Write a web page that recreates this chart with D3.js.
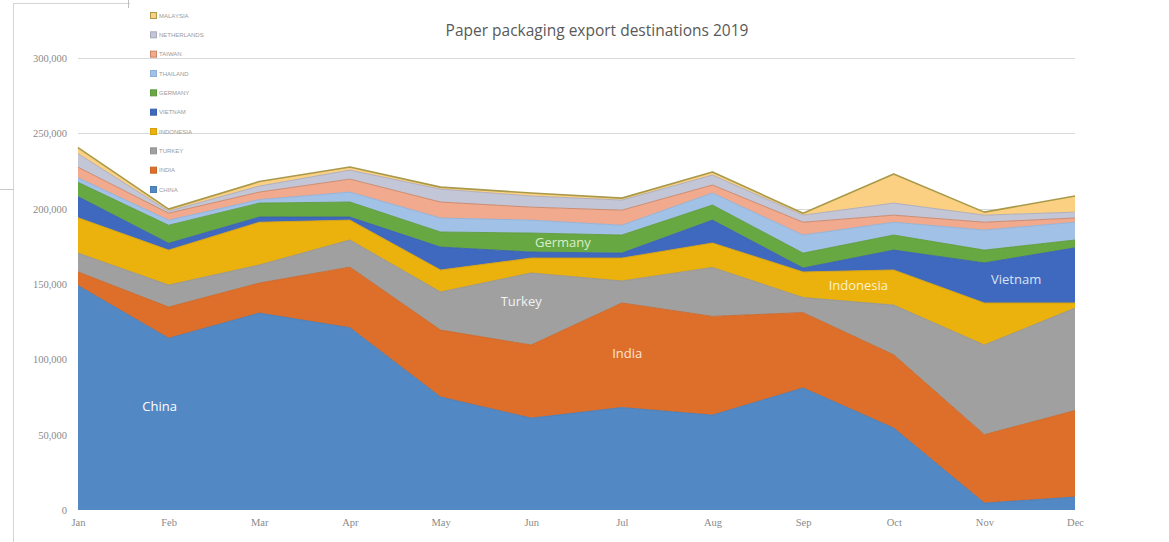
<!DOCTYPE html>
<html><head><meta charset="utf-8">
<script src="https://cdn.jsdelivr.net/npm/d3@7"></script>
<style>html,body{margin:0;padding:0;background:#fff;}svg{display:block;}</style>
</head><body>
<svg id="chart" width="1169" height="542"></svg>
<script>
const months = ["Jan","Feb","Mar","Apr","May","Jun","Jul","Aug","Sep","Oct","Nov","Dec"];
const seriesNames = ["CHINA","INDIA","TURKEY","INDONESIA","VIETNAM","GERMANY","THAILAND","TAIWAN","NETHERLANDS","MALAYSIA"];
const china       = [149000,114000,130700,121000,75000,61000,68000,63000,81000,54400,4600,8600];
const india       = [9000,20700,19900,40200,44400,48500,69400,65500,50000,48600,45400,57400];
const turkey      = [12500,14600,12000,18000,25300,47800,14600,32500,10000,33000,59500,68000];
const indonesia   = [23500,23200,28400,13200,14600,9900,15200,16200,17000,23300,27900,3400];
const vietnam     = [14000,4500,3400,2000,15200,4000,3300,15200,2600,13200,26600,36600];
const germany     = [9500,12000,9300,10000,10000,12600,12000,10000,9900,10000,8500,5200];
const thailand    = [3000,3400,2300,6600,9300,8600,6500,8000,12000,8500,13300,11800];
const taiwan      = [7000,4600,5000,8600,10600,8600,10000,5300,8500,4700,5200,2800];
const netherlands = [9000,1400,4000,6000,8600,7400,6700,6600,4700,8000,4700,3900];
const malaysia    = [4000,1300,3000,2000,1300,2000,1300,2000,1300,19300,2000,10700];
const yTicks = [0,50000,100000,150000,200000,250000,300000];
const titleText = "Paper packaging export destinations 2019";
const areaLabels = [
  {text:"China", m:0.9, v:68000, color:"#ffffff"},
  {text:"India", m:6.06, v:103000, color:"#fbe5d6"},
  {text:"Turkey", m:4.89, v:138000, color:"#f2f2f2"},
  {text:"Germany", m:5.35, v:177000, color:"#d9efc9"},
  {text:"Indonesia", m:8.61, v:148000, color:"#fff2cc"},
  {text:"Vietnam", m:10.35, v:152000, color:"#dae3f3"}
];

const colors = ["#5288c4","#de6f2a","#a0a0a0","#ebb10c","#3f69bf","#68a843","#a2c1e6","#f2aa8e","#c3c6d6","#fcd082"];
const strokes = ["#4a7bb2","#c96526","#939393","#d6a10b","#3960ad","#5e993c","#8fb0d6","#c98466","#a9aabb","#a89a4a"];

const seriesData = [china,india,turkey,indonesia,vietnam,germany,thailand,taiwan,netherlands,malaysia];
const rows = months.map((m,i)=>{const r={month:m,idx:i}; seriesNames.forEach((s,k)=>r[s]=seriesData[k][i]); return r;});

const svg = d3.select("#chart");
const x = d3.scaleLinear().domain([0,11]).range([78,1075]);
const y = d3.scaleLinear().domain([0,300000]).range([510,58]);

// chart frame artifacts
svg.append("line").attr("x1",13.5).attr("x2",13.5).attr("y1",3).attr("y2",542).attr("stroke","#d4d4d4");
svg.append("line").attr("x1",13).attr("x2",130).attr("y1",3.5).attr("y2",3.5).attr("stroke","#d4d4d4");
svg.append("line").attr("x1",128.5).attr("x2",128.5).attr("y1",0).attr("y2",8).attr("stroke","#bfbfbf");
svg.append("line").attr("x1",0).attr("x2",13).attr("y1",189.5).attr("y2",189.5).attr("stroke","#c8c8c8");

// gridlines
svg.append("g").selectAll("line").data(yTicks.filter(d=>d>0)).join("line")
  .attr("x1",x(0)).attr("x2",x(11)).attr("y1",d=>Math.round(y(d))+0.5).attr("y2",d=>Math.round(y(d))+0.5)
  .attr("stroke","#d9d9d9").attr("stroke-width",1);

// y axis labels
const yAxis = d3.axisLeft(y).tickValues(yTicks).tickSize(0).tickPadding(0).tickFormat(d3.format(","));
const gy = svg.append("g").attr("transform","translate(67,0)").call(yAxis);
gy.select(".domain").remove();
gy.selectAll("text").attr("fill","#8a8a8a").style("font-family","'Liberation Serif', serif").style("font-size","10.5px");

// x axis labels
const xAxis = d3.axisBottom(x).tickValues(d3.range(12)).tickSize(0).tickPadding(0).tickFormat(i=>months[i]);
const gx = svg.append("g").attr("transform","translate(0,519)").call(xAxis);
gx.select(".domain").remove();
gx.selectAll("text").attr("fill","#8a8a8a").style("font-family","'Liberation Serif', serif").style("font-size","10.5px");

// stacked areas
const stack = d3.stack().keys(seriesNames);
const layers = stack(rows);
const area = d3.area().x((d,i)=>x(i)).y0(d=>y(d[0])).y1(d=>y(d[1])).curve(d3.curveLinear);
const topLine = d3.line().x((d,i)=>x(i)).y(d=>y(d[1]));
svg.append("g").selectAll("path").data(layers).join("path")
  .attr("d",area).attr("fill",(d,i)=>colors[i]);
svg.append("g").selectAll("path").data(layers).join("path")
  .attr("d",topLine).attr("fill","none").attr("stroke",(d,i)=>strokes[i])
  .attr("stroke-width",(d,i)=> i===9?1.6:0.9).attr("stroke-linejoin","round");

// area labels
svg.append("g").selectAll("text").data(areaLabels).join("text")
  .attr("x",d=>x(d.m)).attr("y",d=>y(d.v)).attr("text-anchor","middle").attr("dominant-baseline","middle")
  .attr("fill",d=>d.color).style("font-family","'Open Sans', sans-serif").style("font-size","13px")
  .text(d=>d.text);

// title
svg.append("text").attr("x",597).attr("y",36).attr("text-anchor","middle").attr("fill","#595959")
  .style("font-family","'Open Sans', sans-serif").style("font-size","15.5px").text(titleText);

// legend (reverse order, top = last series)
const legendItems = seriesNames.map((s,i)=>({name:s,i})).reverse();
const lg = svg.append("g");
const ly = d3.scalePoint().domain(legendItems.map(d=>d.name)).range([16,190]);
legendItems.forEach(d=>{
  lg.append("rect").attr("x",150.5).attr("y",ly(d.name)-3.5).attr("width",6).attr("height",6)
    .attr("fill",colors[d.i]).attr("stroke",strokes[d.i]).attr("stroke-width",1);
  lg.append("text").attr("x",159).attr("y",ly(d.name)).attr("dominant-baseline","middle")
    .attr("fill","#9a9a9a").style("font-family","'Liberation Sans', sans-serif").style("font-size","6px")
    .text(d.name);
});
</script>
</body></html>
